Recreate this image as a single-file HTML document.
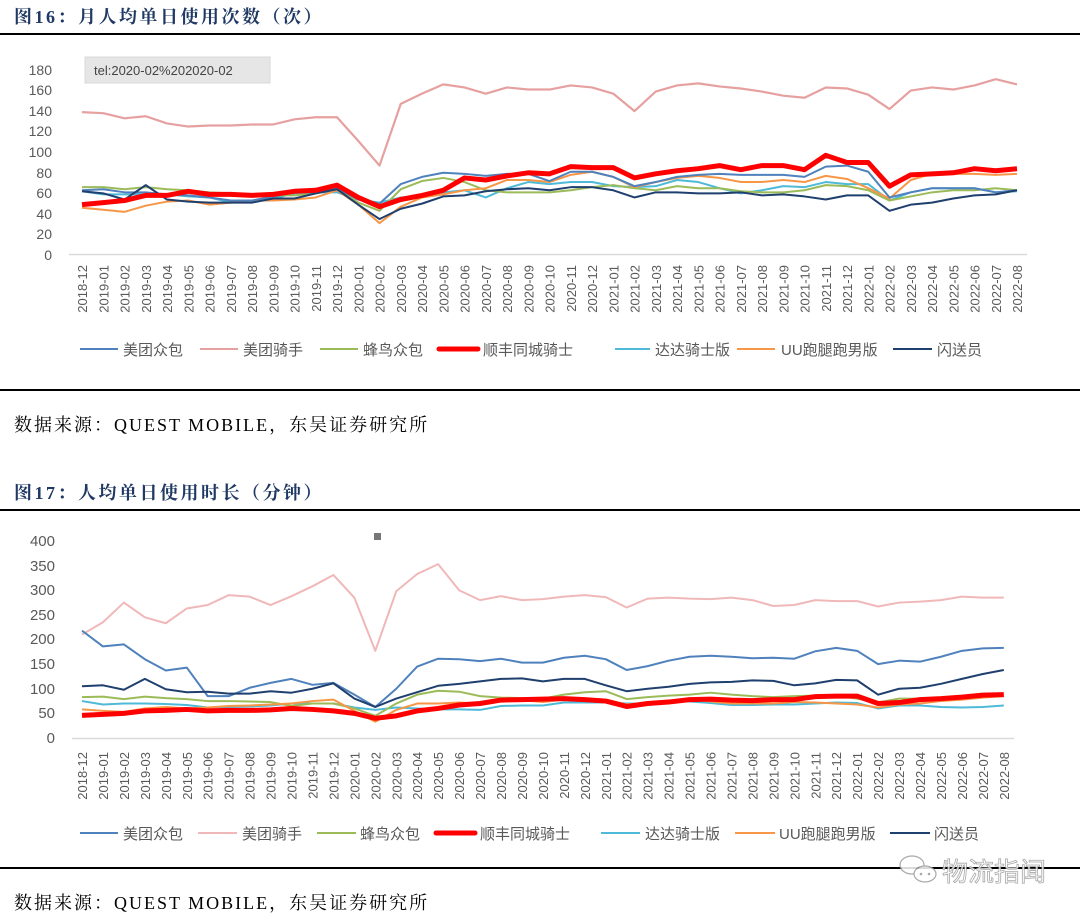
<!DOCTYPE html>
<html><head><meta charset="utf-8">
<style>
html,body{margin:0;padding:0;background:#fff;}
body{width:1080px;height:917px;overflow:hidden;position:relative;}
svg{position:absolute;left:0;top:0;}
.h{font-family:"Liberation Serif","Noto Serif CJK SC",serif;font-weight:bold;fill:#1f3864;font-size:18px;letter-spacing:2.5px;}
.s{font-family:"Liberation Serif","Noto Serif CJK SC",serif;fill:#000;font-size:18px;letter-spacing:2px;}
.y{font-family:"Liberation Sans","Noto Sans CJK SC",sans-serif;fill:#595959;font-size:14px;text-anchor:end;}
.x{font-family:"Liberation Sans",sans-serif;fill:#595959;font-size:13px;text-anchor:end;}
.l{font-family:"Liberation Sans","Noto Sans CJK SC",sans-serif;fill:#595959;font-size:15px;}
polyline{fill:none;vector-effect:non-scaling-stroke;stroke-linejoin:round;}
</style></head><body>
<svg width="1080" height="917" viewBox="0 0 1080 917">
<text class="h" x="14" y="23">图16：月人均单日使用次数（次）</text>
<rect x="0" y="33" width="1080" height="2" fill="#000"/>
<rect x="85" y="57" width="185" height="26" fill="#e6e6e6" stroke="#d8d8d8"/>
<text x="94" y="75" font-family="Liberation Sans,sans-serif" font-size="13" fill="#444">tel:2020-02%202020-02</text>
<g class="y">
<text x="52" y="75">180</text><text x="52" y="95">160</text><text x="52" y="116">140</text><text x="52" y="136">120</text><text x="52" y="157">100</text><text x="52" y="178">80</text><text x="52" y="198">60</text><text x="52" y="219">40</text><text x="52" y="239">20</text><text x="52" y="260">0</text>
</g>
<line x1="69" y1="254.5" x2="1027" y2="254.5" stroke="#d9d9d9" stroke-width="1.5"/>
<g transform="translate(82,254) scale(21.25,-1.028)">
<polyline stroke="#e6a0a0" stroke-width="2.2" points="0,138 1,137 2,132 3,134 4,127 5,124 6,125 7,125 8,126 9,126 10,131 11,133 12,133 13,110 14,86 15,146 16,156 17,165 18,162 19,156 20,162 21,160 22,160 23,164 24,162 25,156 26,139 27,158 28,164 29,166 30,163 31,161 32,158 33,154 34,152 35,162 36,161 37,155 38,141 39,159 40,162 41,160 42,164 43,170 44,165"/>
<polyline stroke="#4ebad8" stroke-width="2" points="0,61 1,58 2,58 3,58 4,58 5,56 6,55 7,50 8,52 9,54 10,59 11,60 12,60 13,53 14,50 15,55 16,56 17,60 18,62 19,55 20,64 21,70 22,68 23,70 24,70 25,66 26,65 27,66 28,72 29,70 30,64 31,59 32,62 33,66 34,65 35,70 36,68 37,68 38,52 39,60 40,64 41,64 42,64 43,60 44,61"/>
<polyline stroke="#9bbb59" stroke-width="2" points="0,65 1,65 2,63 3,65 4,63 5,62 6,60 7,59 8,58 9,57 10,57 11,59 12,64 13,50 14,42 15,63 16,71 17,74 18,70 19,62 20,60 21,60 22,60 23,62 24,65 25,67 26,64 27,62 28,66 29,64 30,64 31,61 32,60 33,60 34,62 35,67 36,66 37,62 38,52 39,56 40,60 41,62 42,62 43,64 44,62"/>
<polyline stroke="#f79646" stroke-width="2" points="0,45 1,43 2,41 3,47 4,51 5,52 6,48 7,50 8,52 9,52 10,53 11,55 12,62 13,48 14,30 15,46 16,55 17,58 18,62 19,64 20,72 21,72 22,70 23,77 24,80 25,75 26,65 27,70 28,74 29,76 30,74 31,70 32,70 33,72 34,70 35,76 36,73 37,64 38,54 39,72 40,78 41,78 42,78 43,77 44,78"/>
<polyline stroke="#4f81bd" stroke-width="2" points="0,62 1,63 2,60 3,60 4,58 5,57 6,55 7,52 8,52 9,56 10,60 11,60 12,64 13,53 14,49 15,68 16,75 17,79 18,78 19,76 20,78 21,78 22,71 23,80 24,80 25,75 26,66 27,70 28,75 29,77 30,78 31,77 32,77 33,77 34,75 35,85 36,86 37,80 38,55 39,60 40,64 41,64 42,64 43,60 44,62"/>
<polyline stroke="#1f3f6e" stroke-width="2" points="0,61 1,59 2,53 3,67 4,53 5,51 6,50 7,50 8,50 9,54 10,54 11,59 12,63 13,48 14,34 15,44 16,49 17,56 18,57 19,61 20,63 21,64 22,62 23,65 24,65 25,62 26,55 27,60 28,60 29,59 30,59 31,60 32,57 33,58 34,56 35,53 36,57 37,57 38,42 39,48 40,50 41,54 42,57 43,58 44,62"/>
<polyline stroke="#ff0000" stroke-width="5" points="0,48 1,50 2,52 3,57 4,57 5,61 6,58 7,58 8,57 9,58 10,61 11,62 12,67 13,55 14,46 15,53 16,57 17,62 18,74 19,72 20,76 21,79 22,78 23,85 24,84 25,84 26,74 27,78 28,81 29,83 30,86 31,82 32,86 33,86 34,82 35,96 36,89 37,89 38,66 39,77 40,78 41,79 42,83 43,81 44,83"/>
</g>
<g class="x">
<text transform="rotate(-90)" x="-265" y="87">2018-12</text><text transform="rotate(-90)" x="-265" y="108.25">2019-01</text><text transform="rotate(-90)" x="-265" y="129.5">2019-02</text><text transform="rotate(-90)" x="-265" y="150.75">2019-03</text><text transform="rotate(-90)" x="-265" y="172">2019-04</text><text transform="rotate(-90)" x="-265" y="193.25">2019-05</text><text transform="rotate(-90)" x="-265" y="214.5">2019-06</text><text transform="rotate(-90)" x="-265" y="235.75">2019-07</text><text transform="rotate(-90)" x="-265" y="257">2019-08</text><text transform="rotate(-90)" x="-265" y="278.25">2019-09</text><text transform="rotate(-90)" x="-265" y="299.5">2019-10</text><text transform="rotate(-90)" x="-265" y="320.75">2019-11</text><text transform="rotate(-90)" x="-265" y="342">2019-12</text><text transform="rotate(-90)" x="-265" y="363.25">2020-01</text><text transform="rotate(-90)" x="-265" y="384.5">2020-02</text><text transform="rotate(-90)" x="-265" y="405.75">2020-03</text><text transform="rotate(-90)" x="-265" y="427">2020-04</text><text transform="rotate(-90)" x="-265" y="448.25">2020-05</text><text transform="rotate(-90)" x="-265" y="469.5">2020-06</text><text transform="rotate(-90)" x="-265" y="490.75">2020-07</text><text transform="rotate(-90)" x="-265" y="512">2020-08</text><text transform="rotate(-90)" x="-265" y="533.25">2020-09</text><text transform="rotate(-90)" x="-265" y="554.5">2020-10</text><text transform="rotate(-90)" x="-265" y="575.75">2020-11</text><text transform="rotate(-90)" x="-265" y="597">2020-12</text><text transform="rotate(-90)" x="-265" y="618.25">2021-01</text><text transform="rotate(-90)" x="-265" y="639.5">2021-02</text><text transform="rotate(-90)" x="-265" y="660.75">2021-03</text><text transform="rotate(-90)" x="-265" y="682">2021-04</text><text transform="rotate(-90)" x="-265" y="703.25">2021-05</text><text transform="rotate(-90)" x="-265" y="724.5">2021-06</text><text transform="rotate(-90)" x="-265" y="745.75">2021-07</text><text transform="rotate(-90)" x="-265" y="767">2021-08</text><text transform="rotate(-90)" x="-265" y="788.25">2021-09</text><text transform="rotate(-90)" x="-265" y="809.5">2021-10</text><text transform="rotate(-90)" x="-265" y="830.75">2021-11</text><text transform="rotate(-90)" x="-265" y="852">2021-12</text><text transform="rotate(-90)" x="-265" y="873.25">2022-01</text><text transform="rotate(-90)" x="-265" y="894.5">2022-02</text><text transform="rotate(-90)" x="-265" y="915.75">2022-03</text><text transform="rotate(-90)" x="-265" y="937">2022-04</text><text transform="rotate(-90)" x="-265" y="958.25">2022-05</text><text transform="rotate(-90)" x="-265" y="979.5">2022-06</text><text transform="rotate(-90)" x="-265" y="1000.75">2022-07</text><text transform="rotate(-90)" x="-265" y="1022">2022-08</text>
</g>
<g>
<line x1="80" y1="349" x2="118" y2="349" stroke="#4f81bd" stroke-width="2"/><text class="l" x="123" y="355">美团众包</text>
<line x1="200" y1="349" x2="238" y2="349" stroke="#e6a0a0" stroke-width="2"/><text class="l" x="243" y="355">美团骑手</text>
<line x1="320" y1="349" x2="358" y2="349" stroke="#9bbb59" stroke-width="2"/><text class="l" x="363" y="355">蜂鸟众包</text>
<line x1="439" y1="349" x2="478" y2="349" stroke="#ff0000" stroke-width="5" stroke-linecap="round"/><text class="l" x="483" y="355">顺丰同城骑士</text>
<line x1="615" y1="349" x2="650" y2="349" stroke="#4ebad8" stroke-width="2"/><text class="l" x="655" y="355">达达骑士版</text>
<line x1="737" y1="349" x2="775" y2="349" stroke="#f79646" stroke-width="2"/><text class="l" x="781" y="355">UU跑腿跑男版</text>
<line x1="893" y1="349" x2="932" y2="349" stroke="#1f3f6e" stroke-width="2"/><text class="l" x="937" y="355">闪送员</text>
</g>
<rect x="0" y="389" width="1080" height="2" fill="#000"/>
<text class="s" x="14" y="431">数据来源：QUEST MOBILE，东吴证券研究所</text>

<text class="h" x="14" y="499">图17：人均单日使用时长（分钟）</text>
<rect x="0" y="509" width="1080" height="2" fill="#000"/>
<rect x="374" y="533" width="7" height="7" fill="#777"/>
<g class="y" style="font-size:15px">
<text x="55" y="546">400</text><text x="55" y="571">350</text><text x="55" y="595">300</text><text x="55" y="620">250</text><text x="55" y="644">200</text><text x="55" y="669">150</text><text x="55" y="694">100</text><text x="55" y="718">50</text><text x="55" y="743">0</text>
</g>
<line x1="72" y1="738.5" x2="1014" y2="738.5" stroke="#d9d9d9" stroke-width="1.5"/>
<g transform="translate(82,738) scale(20.95,-0.4925)">
<polyline stroke="#f0b8b8" stroke-width="2" points="0,210 1,235 2,275 3,245 4,233 5,263 6,270 7,290 8,287 9,270 10,288 11,308 12,331 13,285 14,177 15,298 16,333 17,353 18,300 19,280 20,288 21,280 22,282 23,287 24,290 25,286 26,265 27,283 28,285 29,283 30,282 31,285 32,280 33,268 34,270 35,280 36,278 37,278 38,267 39,275 40,277 41,280 42,287 43,285 44,285"/>
<polyline stroke="#4ebad8" stroke-width="2" points="0,75 1,68 2,70 3,70 4,69 5,67 6,62 7,63 8,64 9,66 10,70 11,70 12,70 13,62 14,57 15,62 16,60 17,58 18,58 19,57 20,65 21,66 22,66 23,72 24,72 25,72 26,70 27,70 28,74 29,74 30,71 31,67 32,67 33,68 34,68 35,70 36,72 37,71 38,60 39,66 40,66 41,63 42,62 43,63 44,66"/>
<polyline stroke="#9bbb59" stroke-width="2" points="0,83 1,84 2,79 3,84 4,81 5,79 6,75 7,75 8,74 9,73 10,65 11,70 12,70 13,60 14,45 15,70 16,88 17,96 18,94 19,85 20,82 21,81 22,80 23,88 24,93 25,95 26,79 27,83 28,86 29,88 30,92 31,88 32,85 33,83 34,85 35,86 36,86 37,80 38,72 39,80 40,80 41,78 42,85 43,87 44,86"/>
<polyline stroke="#f79646" stroke-width="2" points="0,58 1,55 2,53 3,60 4,63 5,60 6,62 7,65 8,66 9,68 10,70 11,75 12,78 13,55 14,33 15,57 16,70 17,70 18,72 19,70 20,78 21,77 22,73 23,78 24,80 25,78 26,68 27,72 28,76 29,78 30,74 31,70 32,70 33,70 34,73 35,72 36,70 37,68 38,62 39,68 40,70 41,75 42,78 43,82 44,85"/>
<polyline stroke="#4f81bd" stroke-width="2" points="0,218 1,186 2,190 3,160 4,137 5,143 6,85 7,85 8,102 9,112 10,120 11,108 12,112 13,88 14,63 15,100 16,145 17,161 18,160 19,156 20,161 21,153 22,153 23,163 24,167 25,160 26,138 27,146 28,157 29,165 30,167 31,165 32,162 33,163 34,161 35,176 36,183 37,177 38,150 39,157 40,155 41,165 42,177 43,182 44,183"/>
<polyline stroke="#1f3f6e" stroke-width="2" points="0,105 1,107 2,98 3,120 4,99 5,93 6,94 7,90 8,90 9,95 10,92 11,100 12,111 13,80 14,63 15,80 16,93 17,106 18,110 19,115 20,120 21,121 22,115 23,120 24,120 25,107 26,95 27,100 28,104 29,110 30,113 31,114 32,117 33,116 34,107 35,111 36,118 37,117 38,88 39,100 40,102 41,110 42,120 43,130 44,138"/>
<polyline stroke="#ff0000" stroke-width="5" points="0,46 1,48 2,50 3,55 4,56 5,58 6,55 7,56 8,56 9,57 10,60 11,58 12,55 13,50 14,40 15,45 16,55 17,60 18,67 19,70 20,77 21,78 22,79 23,80 24,78 25,75 26,64 27,70 28,73 29,78 30,79 31,77 32,76 33,78 34,78 35,84 36,85 37,85 38,70 39,72 40,78 41,80 42,83 43,87 44,88"/>
</g>
<g class="x">
<text transform="rotate(-90)" x="-752" y="87">2018-12</text><text transform="rotate(-90)" x="-752" y="107.95">2019-01</text><text transform="rotate(-90)" x="-752" y="128.9">2019-02</text><text transform="rotate(-90)" x="-752" y="149.85">2019-03</text><text transform="rotate(-90)" x="-752" y="170.8">2019-04</text><text transform="rotate(-90)" x="-752" y="191.75">2019-05</text><text transform="rotate(-90)" x="-752" y="212.7">2019-06</text><text transform="rotate(-90)" x="-752" y="233.65">2019-07</text><text transform="rotate(-90)" x="-752" y="254.6">2019-08</text><text transform="rotate(-90)" x="-752" y="275.55">2019-09</text><text transform="rotate(-90)" x="-752" y="296.5">2019-10</text><text transform="rotate(-90)" x="-752" y="317.45">2019-11</text><text transform="rotate(-90)" x="-752" y="338.4">2019-12</text><text transform="rotate(-90)" x="-752" y="359.35">2020-01</text><text transform="rotate(-90)" x="-752" y="380.3">2020-02</text><text transform="rotate(-90)" x="-752" y="401.25">2020-03</text><text transform="rotate(-90)" x="-752" y="422.2">2020-04</text><text transform="rotate(-90)" x="-752" y="443.15">2020-05</text><text transform="rotate(-90)" x="-752" y="464.1">2020-06</text><text transform="rotate(-90)" x="-752" y="485.05">2020-07</text><text transform="rotate(-90)" x="-752" y="506">2020-08</text><text transform="rotate(-90)" x="-752" y="526.95">2020-09</text><text transform="rotate(-90)" x="-752" y="547.9">2020-10</text><text transform="rotate(-90)" x="-752" y="568.85">2020-11</text><text transform="rotate(-90)" x="-752" y="589.8">2020-12</text><text transform="rotate(-90)" x="-752" y="610.75">2021-01</text><text transform="rotate(-90)" x="-752" y="631.7">2021-02</text><text transform="rotate(-90)" x="-752" y="652.65">2021-03</text><text transform="rotate(-90)" x="-752" y="673.6">2021-04</text><text transform="rotate(-90)" x="-752" y="694.55">2021-05</text><text transform="rotate(-90)" x="-752" y="715.5">2021-06</text><text transform="rotate(-90)" x="-752" y="736.45">2021-07</text><text transform="rotate(-90)" x="-752" y="757.4">2021-08</text><text transform="rotate(-90)" x="-752" y="778.35">2021-09</text><text transform="rotate(-90)" x="-752" y="799.3">2021-10</text><text transform="rotate(-90)" x="-752" y="820.25">2021-11</text><text transform="rotate(-90)" x="-752" y="841.2">2021-12</text><text transform="rotate(-90)" x="-752" y="862.15">2022-01</text><text transform="rotate(-90)" x="-752" y="883.1">2022-02</text><text transform="rotate(-90)" x="-752" y="904.05">2022-03</text><text transform="rotate(-90)" x="-752" y="925">2022-04</text><text transform="rotate(-90)" x="-752" y="945.95">2022-05</text><text transform="rotate(-90)" x="-752" y="966.9">2022-06</text><text transform="rotate(-90)" x="-752" y="987.85">2022-07</text><text transform="rotate(-90)" x="-752" y="1008.8">2022-08</text>
</g>
<g>
<line x1="80" y1="833" x2="118" y2="833" stroke="#4f81bd" stroke-width="2"/><text class="l" x="123" y="839">美团众包</text>
<line x1="198" y1="833" x2="237" y2="833" stroke="#f0b8b8" stroke-width="2"/><text class="l" x="242" y="839">美团骑手</text>
<line x1="317" y1="833" x2="356" y2="833" stroke="#9bbb59" stroke-width="2"/><text class="l" x="360" y="839">蜂鸟众包</text>
<line x1="436" y1="833" x2="475" y2="833" stroke="#ff0000" stroke-width="5" stroke-linecap="round"/><text class="l" x="480" y="839">顺丰同城骑士</text>
<line x1="601" y1="833" x2="640" y2="833" stroke="#4ebad8" stroke-width="2"/><text class="l" x="645" y="839">达达骑士版</text>
<line x1="735" y1="833" x2="775" y2="833" stroke="#f79646" stroke-width="2"/><text class="l" x="779" y="839">UU跑腿跑男版</text>
<line x1="890" y1="833" x2="930" y2="833" stroke="#1f3f6e" stroke-width="2"/><text class="l" x="934" y="839">闪送员</text>
</g>
<rect x="0" y="867" width="1080" height="2" fill="#000"/>
<g opacity="0.85">
<ellipse cx="912" cy="865" rx="12" ry="9" fill="#fff" stroke="#999" stroke-width="1.2"/>
<ellipse cx="925" cy="874" rx="11" ry="8" fill="#fff" stroke="#999" stroke-width="1.2"/>
<circle cx="921" cy="874" r="1.3" fill="#999"/><circle cx="929" cy="874" r="1.3" fill="#999"/>
<text x="942" y="881" font-family="Liberation Sans,'Noto Sans CJK SC',sans-serif" font-size="26" fill="#fff" stroke="#999" stroke-width="0.8">物流指闻</text>
</g>
<text class="s" x="14" y="909">数据来源：QUEST MOBILE，东吴证券研究所</text>
</svg>
</body></html>
